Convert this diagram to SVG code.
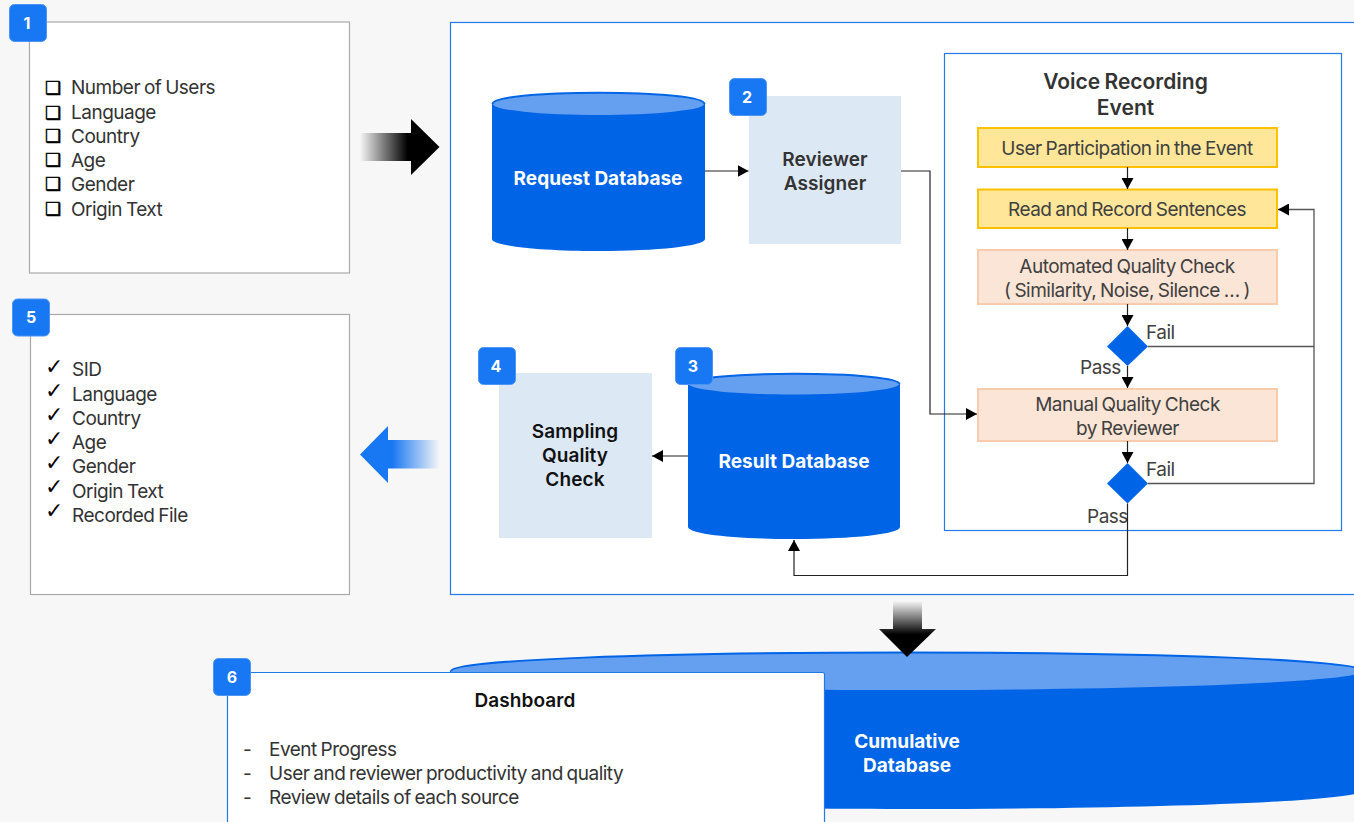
<svg xmlns="http://www.w3.org/2000/svg" width="1354" height="822" viewBox="0 0 1354 822">
<style>
text{font-family:Inter,"Liberation Sans",sans-serif;font-size:19px;fill:#333;letter-spacing:-.5px;word-spacing:-1px}
.c{text-anchor:middle}
.b{font-weight:600;fill:#333;letter-spacing:.1px;word-spacing:0}
.w{fill:#fff;font-weight:700;letter-spacing:0;word-spacing:0}
.k{fill:#111;font-weight:600;letter-spacing:.1px;word-spacing:0}
.h{fill:#333;font-weight:600;font-size:21px;letter-spacing:0;word-spacing:-1px}
.n{fill:#fff;font-weight:700;font-size:16px;text-anchor:middle;letter-spacing:0}
.g{font-family:"DejaVu Sans",sans-serif;font-size:18px;fill:#000;stroke:#000;stroke-width:.5;letter-spacing:0}
.t{font-family:"DejaVu Sans",sans-serif;font-size:22px;fill:#000;letter-spacing:0}
.m{fill:#404040}
.badge{fill:#1877f2;stroke:#4d95f5;stroke-width:1}
.box{fill:#fff;stroke:#a9a9a9;stroke-width:1.2}
.blue{fill:#fff;stroke:#1f7aec;stroke-width:1.2}
.lb{fill:#dde8f5}
.y{fill:#ffe699;stroke:#ffc000;stroke-width:2}
.o{fill:#fbe5d6;stroke:#f8cbad;stroke-width:2}
.d{fill:#0064e6}
.top{fill:#659ff0}
.arc{fill:none;stroke:#0064e6;stroke-width:2}
.l{fill:none;stroke:#222;stroke-width:1.2}
.l2{fill:none;stroke:#555;stroke-width:1.3}
</style>
<defs>
<marker id="a" markerWidth="11" markerHeight="12" refX="11" refY="6" orient="auto" markerUnits="userSpaceOnUse"><path d="M0 0L11 6L0 12z" fill="#000"/></marker>
<linearGradient id="gr"><stop offset="0" stop-color="#000" stop-opacity="0"/><stop offset=".6" stop-color="#000"/></linearGradient>
<linearGradient id="gb" x1="1" x2="0"><stop offset="0" stop-color="#1877f2" stop-opacity="0"/><stop offset=".6" stop-color="#1877f2"/></linearGradient>
<linearGradient id="gd" x1="0" x2="0" y1="0" y2="1"><stop offset="0" stop-color="#000" stop-opacity="0"/><stop offset=".6" stop-color="#000"/></linearGradient>
</defs>
<rect width="1354" height="822" fill="#f7f7f7"/>

<g id="input-box"><rect class="box" x="29.500" y="22" width="320" height="251"/>
<text class="g" x="45" y="94">❑</text><text x="71" y="94">Number of Users</text>
<text class="g" x="45" y="119">❑</text><text x="71" y="119">Language</text>
<text class="g" x="45" y="142">❑</text><text x="71" y="143">Country</text>
<text class="g" x="45" y="166">❑</text><text x="71" y="167">Age</text>
<text class="g" x="45" y="190">❑</text><text x="71" y="191">Gender</text>
<text class="g" x="45" y="215">❑</text><text x="71" y="216">Origin Text</text>
<rect class="badge" x="9.500" y="4.500" width="37" height="37" rx="5"/><text class="n" x="27" y="29">1</text></g>

<g id="output-box"><rect class="box" x="30.500" y="314.500" width="319" height="280"/>
<text class="t" x="45" y="374">✓</text><text x="72" y="376">SID</text>
<text class="t" x="45" y="398">✓</text><text x="72" y="401">Language</text>
<text class="t" x="45" y="422">✓</text><text x="72" y="425">Country</text>
<text class="t" x="45" y="446">✓</text><text x="72" y="449">Age</text>
<text class="t" x="45" y="470">✓</text><text x="72" y="473">Gender</text>
<text class="t" x="45" y="494">✓</text><text x="72" y="498">Origin Text</text>
<text class="t" x="45" y="518">✓</text><text x="72" y="522">Recorded File</text>
<rect class="badge" x="12.500" y="299" width="37" height="37" rx="5"/><text class="n" x="31" y="323">5</text></g>

<g id="arrow-in"><path d="M360 133H411V119L439.500 147L411 175V161H360z" fill="url(#gr)"/></g>
<g id="arrow-out"><path d="M440 440H388V426L360 454.500L388 483V468.500H440z" fill="url(#gb)"/></g>

<g id="main-panel"><rect class="blue" x="450.500" y="22.500" width="910" height="572"/></g>
<g id="event-panel"><rect class="blue" x="944.500" y="53.500" width="397" height="477"/>
<text class="c h" x="1125.500" y="89">Voice Recording</text>
<text class="c h" x="1125.500" y="115">Event</text></g>

<g id="request-db"><path class="d" d="M492 104V239C492 246 540 251 598.500 251S705 246 705 239V104z"/><ellipse class="top" cx="598.500" cy="104" rx="105.500" ry="11"/><path class="arc" d="M492.500 104C492.500 97 540 92.800 598.500 92.800S704.500 97 704.500 104"/>
<text class="c w" x="598" y="185">Request Database</text></g>

<g id="reviewer-assigner"><rect class="lb" x="749" y="96" width="152" height="148"/>
<text class="c b" x="825" y="166">Reviewer</text><text class="c b" x="825" y="190">Assigner</text>
<rect class="badge" x="729.500" y="78.500" width="37" height="37" rx="5"/><text class="n" x="747" y="103">2</text></g>

<g id="result-db"><path class="d" d="M688 384V527C688 534 735 539 794 539S900 534 900 527V384z"/><ellipse class="top" cx="794" cy="384" rx="105" ry="10.500"/><path class="arc" d="M688.500 384C688.500 378 735 373.800 794 373.800S899.500 378 899.500 384"/>
<text class="c w" x="794" y="468">Result Database</text>
<rect class="badge" x="675.500" y="347.500" width="37" height="37" rx="5"/><text class="n" x="693" y="372">3</text></g>

<g id="sampling"><rect class="lb" x="499" y="373" width="153" height="165"/>
<text class="c k" x="575" y="438">Sampling</text><text class="c k" x="575" y="462">Quality</text><text class="c k" x="575" y="486">Check</text>
<rect class="badge" x="478.500" y="347.500" width="37" height="37" rx="5"/><text class="n" x="496" y="372">4</text></g>

<g id="step-participation"><rect class="y" x="978" y="128" width="299" height="39"/><text class="c m" x="1127" y="155">User Participation in the Event</text></g>
<g id="step-read"><rect class="y" x="978" y="189.500" width="299" height="38.500"/><text class="c m" x="1127" y="216">Read and Record Sentences</text></g>
<g id="step-auto"><rect class="o" x="978" y="250" width="299" height="54"/><text class="c m" x="1127" y="273">Automated Quality Check</text><text class="c m" x="1127" y="297">( Similarity, Noise, Silence … )</text></g>
<g id="decision-1"><path class="d" d="M1127.500 326L1148 346.500L1127.500 366L1107 346.500z"/><text class="m" x="1146" y="339">Fail</text><text class="m" x="1080" y="373.500">Pass</text></g>
<g id="step-manual"><rect class="o" x="978" y="389" width="299" height="52"/><text class="c m" x="1127.500" y="410.500">Manual Quality Check</text><text class="c m" x="1127.500" y="434.500">by Reviewer</text></g>
<g id="decision-2"><path class="d" d="M1127.500 463L1148 483.500L1127.500 503.500L1107 483.500z"/><text class="m" x="1146" y="476">Fail</text><text class="m" x="1087" y="522.500">Pass</text></g>

<g id="connectors">
<path class="l" d="M705 171H748.500" marker-end="url(#a)"/>
<path class="l" d="M901 171H930V414H977" marker-end="url(#a)"/>
<path class="l" d="M688 456H652" marker-end="url(#a)"/>
<path class="l" d="M1127.500 167V189" marker-end="url(#a)"/>
<path class="l" d="M1127.500 228V250" marker-end="url(#a)"/>
<path class="l" d="M1127.500 304V326" marker-end="url(#a)"/>
<path class="l" d="M1127.500 366V388" marker-end="url(#a)"/>
<path class="l" d="M1127.500 441V463" marker-end="url(#a)"/>
<path class="l2" d="M1148 346.500H1314"/>
<path class="l2" d="M1148 483.500H1314V209.500H1278" marker-end="url(#a)"/>
<path class="l" d="M1127.500 503.500V575.500H794V540" marker-end="url(#a)"/>
</g>

<g id="cumulative-db"><path class="d" d="M450 671V790C450 801 654 809 907 809S1364 801 1364 790V671z"/><ellipse class="top" cx="907" cy="671" rx="456" ry="19"/><path class="arc" d="M451 671C451 660 654 652.500 907 652.500S1363 660 1363 671"/>
<text class="c w" x="907" y="748">Cumulative</text><text class="c w" x="907" y="772">Database</text></g>
<g id="arrow-down"><path d="M893 601H922V629H936L907 657L879 629H893z" fill="url(#gd)"/></g>

<g id="dashboard"><rect class="blue" x="227.500" y="672.500" width="597" height="170" rx="2"/>
<text class="c k" x="525" y="707">Dashboard</text>
<text x="243" y="756">-</text><text x="269" y="756">Event Progress</text>
<text x="243" y="780">-</text><text x="269" y="780">User and reviewer productivity and quality</text>
<text x="243" y="804">-</text><text x="269" y="804">Review details of each source</text>
<rect class="badge" x="213.500" y="658.500" width="37" height="37" rx="5"/><text class="n" x="232" y="683">6</text></g>
</svg>
